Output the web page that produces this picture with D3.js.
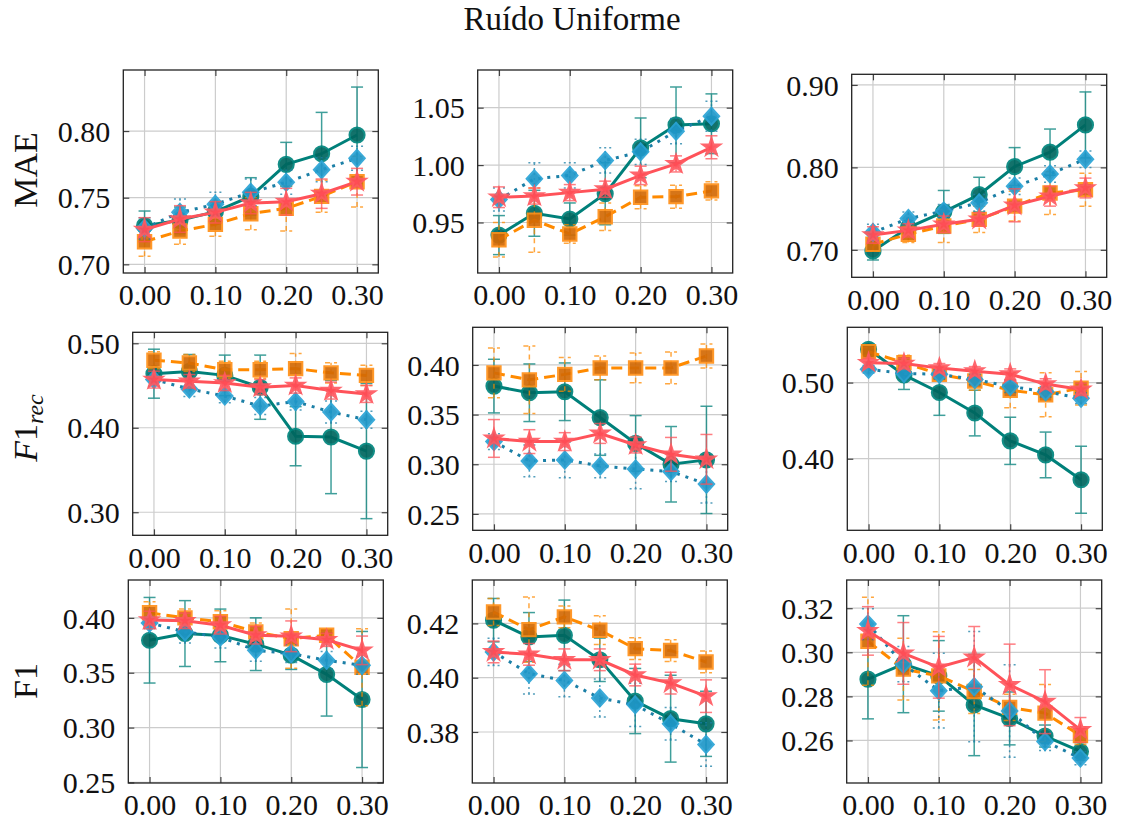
<!DOCTYPE html>
<html>
<head>
<meta charset="utf-8">
<script src="https://cdn.jsdelivr.net/npm/d3@7"></script>
<style>
  body { margin: 0; background: #fff; }
  svg { font-family: "Liberation Serif", "DejaVu Serif", serif; }
</style>
</head>
<body>
<svg id="chart" width="1131" height="825"></svg>
<script>
// noise levels (x axis) and tick values
const noise = [0, 0.05, 0.10, 0.15, 0.20, 0.25, 0.30];
const xTickValues = [0, 0.1, 0.2, 0.3];
const xDomain = [-0.03, 0.33];

// each mean/err array holds 4 series, in order: teal circles, blue diamonds, red stars, orange squares
// row 1: MAE
const mae1Mean = [
  [0.729, 0.733, 0.7395, 0.751, 0.775, 0.783, 0.797],
  [0.727, 0.739, 0.745, 0.754, 0.7615, 0.771, 0.7795],
  [0.726, 0.734, 0.739, 0.746, 0.747, 0.753, 0.762],
  [0.717, 0.725, 0.730, 0.738, 0.742, 0.751, 0.762]
];
const mae1Err = [
  [0.011, 0.010, 0.007, 0.014, 0.0165, 0.031, 0.036],
  [0.008, 0.010, 0.009, 0.010, 0.009, 0.009, 0.009],
  [0.009, 0.010, 0.008, 0.008, 0.010, 0.011, 0.010],
  [0.011, 0.010, 0.009, 0.012, 0.017, 0.012, 0.019]
];
const mae2Mean = [
  [0.939, 0.958, 0.953, 0.975, 1.015, 1.035, 1.036],
  [0.970, 0.988, 0.991, 1.004, 1.0115, 1.0295, 1.0425],
  [0.972, 0.973, 0.976, 0.979, 0.991, 1.001, 1.0155],
  [0.935, 0.952, 0.940, 0.955, 0.972, 0.9725, 0.9775]
];
const mae2Err = [
  [0.017, 0.020, 0.014, 0.027, 0.026, 0.033, 0.026],
  [0.010, 0.014, 0.011, 0.011, 0.011, 0.011, 0.013],
  [0.009, 0.007, 0.007, 0.007, 0.008, 0.007, 0.010],
  [0.015, 0.028, 0.008, 0.012, 0.010, 0.010, 0.008]
];
const mae3Mean = [
  [0.6987, 0.727, 0.746, 0.767, 0.801, 0.8185, 0.8515],
  [0.721, 0.738, 0.747, 0.757, 0.777, 0.792, 0.810],
  [0.718, 0.7236, 0.731, 0.737, 0.754, 0.765, 0.775],
  [0.7067, 0.719, 0.729, 0.737, 0.753, 0.769, 0.773]
];
const mae3Err = [
  [0.011, 0.008, 0.026, 0.021, 0.023, 0.028, 0.040],
  [0.010, 0.008, 0.008, 0.010, 0.010, 0.010, 0.010],
  [0.010, 0.008, 0.010, 0.008, 0.020, 0.012, 0.012],
  [0.008, 0.010, 0.020, 0.016, 0.018, 0.026, 0.020]
];
// row 2: F1 rec
const rec1Mean = [
  [0.464, 0.4667, 0.462, 0.448, 0.390, 0.389, 0.3724],
  [0.457, 0.446, 0.4375, 0.4257, 0.431, 0.4186, 0.4095],
  [0.457, 0.455, 0.453, 0.448, 0.450, 0.444, 0.440],
  [0.480, 0.4766, 0.4687, 0.4687, 0.470, 0.465, 0.462]
];
const rec1Err = [
  [0.029, 0.020, 0.024, 0.038, 0.035, 0.067, 0.080],
  [0.008, 0.009, 0.008, 0.010, 0.010, 0.013, 0.010],
  [0.010, 0.008, 0.009, 0.009, 0.009, 0.010, 0.010],
  [0.010, 0.010, 0.010, 0.010, 0.018, 0.012, 0.012]
];
const rec2Mean = [
  [0.3787, 0.372, 0.373, 0.347, 0.321, 0.300, 0.3044],
  [0.3228, 0.3034, 0.3044, 0.2983, 0.2953, 0.2926, 0.280],
  [0.326, 0.3228, 0.3228, 0.331, 0.3194, 0.310, 0.305],
  [0.392, 0.385, 0.3905, 0.397, 0.397, 0.397, 0.409]
];
const rec2Err = [
  [0.027, 0.029, 0.029, 0.038, 0.028, 0.038, 0.054],
  [0.008, 0.016, 0.018, 0.012, 0.020, 0.010, 0.019],
  [0.019, 0.012, 0.009, 0.010, 0.008, 0.017, 0.025],
  [0.025, 0.034, 0.017, 0.012, 0.015, 0.016, 0.012]
];
const rec3Mean = [
  [0.5437, 0.510, 0.487, 0.460, 0.4235, 0.405, 0.3724],
  [0.5175, 0.512, 0.511, 0.504, 0.495, 0.488, 0.4795],
  [0.526, 0.525, 0.519, 0.515, 0.511, 0.498, 0.491],
  [0.5406, 0.526, 0.511, 0.502, 0.490, 0.484, 0.4926]
];
const rec3Err = [
  [0.005, 0.019, 0.030, 0.030, 0.031, 0.030, 0.044],
  [0.005, 0.006, 0.006, 0.007, 0.008, 0.007, 0.007],
  [0.006, 0.007, 0.006, 0.006, 0.007, 0.007, 0.008],
  [0.005, 0.010, 0.008, 0.012, 0.023, 0.029, 0.022]
];
// row 3: F1
const f1aMean = [
  [0.3796, 0.3857, 0.384, 0.376, 0.366, 0.3485, 0.3256],
  [0.3954, 0.3872, 0.3826, 0.3704, 0.3674, 0.3613, 0.3567],
  [0.398, 0.3973, 0.3933, 0.3842, 0.3832, 0.380, 0.3704],
  [0.4046, 0.400, 0.3964, 0.3872, 0.381, 0.3842, 0.355]
];
const f1aErr = [
  [0.039, 0.030, 0.024, 0.024, 0.013, 0.038, 0.062],
  [0.005, 0.010, 0.010, 0.010, 0.008, 0.008, 0.008],
  [0.008, 0.007, 0.008, 0.008, 0.014, 0.006, 0.013],
  [0.010, 0.008, 0.010, 0.008, 0.027, 0.005, 0.035]
];
const f1bMean = [
  [0.4212, 0.415, 0.4156, 0.4066, 0.3914, 0.3849, 0.383],
  [0.4095, 0.4015, 0.399, 0.3925, 0.390, 0.383, 0.3754],
  [0.4095, 0.4086, 0.4066, 0.4066, 0.401, 0.398, 0.3932],
  [0.4242, 0.4177, 0.4224, 0.4175, 0.4107, 0.410, 0.4058]
];
const f1bErr = [
  [0.008, 0.009, 0.013, 0.008, 0.012, 0.016, 0.012],
  [0.005, 0.0075, 0.006, 0.007, 0.008, 0.006, 0.008],
  [0.004, 0.004, 0.004, 0.004, 0.004, 0.004, 0.006],
  [0.005, 0.012, 0.004, 0.0053, 0.004, 0.004, 0.004]
];
const f1cMean = [
  [0.2878, 0.2946, 0.2893, 0.2761, 0.270, 0.262, 0.255],
  [0.3128, 0.2946, 0.2826, 0.2844, 0.2734, 0.2595, 0.252],
  [0.3097, 0.2995, 0.2932, 0.2977, 0.2852, 0.2776, 0.2648],
  [0.305, 0.2924, 0.2893, 0.2822, 0.275, 0.2724, 0.2622]
];
const f1cErr = [
  [0.018, 0.022, 0.016, 0.023, 0.012, 0.005, 0.004],
  [0.007, 0.008, 0.017, 0.025, 0.021, 0.004, 0.003],
  [0.011, 0.014, 0.014, 0.014, 0.0185, 0.0145, 0.0056],
  [0.020, 0.014, 0.020, 0.010, 0.006, 0.013, 0.004]
];

// y ranges and tick labels per panel
const yDomains = [
  [0.6935, 0.8458], [0.906, 1.0828], [0.6667, 0.9129],
  [0.2727, 0.513], [0.2335, 0.4379], [0.306, 0.5726],
  [0.2495, 0.4345], [0.3612, 0.436], [0.2407, 0.3328]
];
const yTickValues = [
  [0.70, 0.75, 0.80], [0.95, 1.00, 1.05], [0.70, 0.80, 0.90],
  [0.30, 0.40, 0.50], [0.25, 0.30, 0.35, 0.40], [0.40, 0.50],
  [0.25, 0.30, 0.35, 0.40], [0.38, 0.40, 0.42], [0.26, 0.28, 0.30, 0.32]
];
const means = [mae1Mean, mae2Mean, mae3Mean, rec1Mean, rec2Mean, rec3Mean, f1aMean, f1bMean, f1cMean];
const errs = [mae1Err, mae2Err, mae3Err, rec1Err, rec2Err, rec3Err, f1aErr, f1bErr, f1cErr];

// panel boxes [left, top]
const boxes = [
  [123.3, 70], [477.7, 70], [851.7, 74.3],
  [132.7, 332.3], [472.7, 327.3], [847.3, 327.3],
  [128.3, 580], [472.3, 580], [846.7, 580]
];
const boxW = 255, boxH = 203;

const diamond = {
  draw(ctx, size) {
    const r = Math.sqrt(size) / 2;
    ctx.moveTo(0, -r * 1.1);
    ctx.lineTo(r, 0);
    ctx.lineTo(0, r * 1.1);
    ctx.lineTo(-r, 0);
    ctx.closePath();
  }
};

const styles = [
  { line: "#00807a", fill: "#00675f", stroke: "#00857d", dash: null, errDash: null, sym: d3.symbolCircle, size: 180 },
  { line: "#1b7fa6", fill: "#1f97c8", stroke: "#2ba4d6", dash: "3,6", errDash: "2,3", sym: diamond, size: 240 },
  { line: "#ff5259", fill: "#ff4d56", stroke: "#ff5a61", dash: null, errDash: null, sym: d3.symbolStar, size: 95 },
  { line: "#ff8a00", fill: "#d36a05", stroke: "#ff9018", dash: "11,6", errDash: "5,4", sym: d3.symbolSquare, size: 180 }
];
const drawOrder = [0, 3, 1, 2];

const svg = d3.select("#chart");

svg.append("text")
  .attr("x", 572).attr("y", 30)
  .attr("text-anchor", "middle")
  .attr("font-size", 33)
  .attr("fill", "#111")
  .text("Ruído Uniforme");

const fs = 30;

boxes.forEach((b, p) => {
  const g = svg.append("g").attr("transform", `translate(${b[0]},${b[1]})`);
  const x = d3.scaleLinear().domain(xDomain).range([0, boxW]);
  const y = d3.scaleLinear().domain(yDomains[p]).range([boxH, 0]);

  // grid
  g.append("g").selectAll("line").data(xTickValues).join("line")
    .attr("x1", d => x(d)).attr("x2", d => x(d))
    .attr("y1", 0).attr("y2", boxH)
    .attr("stroke", "#cccccc").attr("stroke-width", 1.2);
  g.append("g").selectAll("line").data(yTickValues[p]).join("line")
    .attr("x1", 0).attr("x2", boxW)
    .attr("y1", d => y(d)).attr("y2", d => y(d))
    .attr("stroke", "#cccccc").attr("stroke-width", 1.2);

  // axes, ticks pointing inward
  const fmt = d3.format(".2f");
  const axB = g.append("g").attr("transform", `translate(0,${boxH})`)
    .call(d3.axisBottom(x).tickValues(xTickValues).tickFormat(fmt).tickSize(-6).tickPadding(11));
  const axT = g.append("g")
    .call(d3.axisTop(x).tickValues(xTickValues).tickFormat("").tickSize(-6));
  const axL = g.append("g")
    .call(d3.axisLeft(y).tickValues(yTickValues[p]).tickFormat(fmt).tickSize(-6).tickPadding(13));
  const axR = g.append("g").attr("transform", `translate(${boxW},0)`)
    .call(d3.axisRight(y).tickValues(yTickValues[p]).tickFormat("").tickSize(-6));
  [axB, axT, axL, axR].forEach(a => {
    a.attr("font-family", null).attr("font-size", fs);
    a.select(".domain").remove();
    a.selectAll(".tick line").attr("stroke", "#444").attr("stroke-width", 1.2);
    a.selectAll(".tick text").attr("fill", "#111");
  });
  axL.selectAll(".tick text").attr("dy", "0.34em");

  // box
  g.append("rect").attr("width", boxW).attr("height", boxH)
    .attr("fill", "none").attr("stroke", "#222").attr("stroke-width", 1.3);

  const line = d3.line().x((d, i) => x(noise[i])).y(d => y(d));

  drawOrder.forEach(s => {
    const st = styles[s];
    const vals = means[p][s];
    const ev = errs[p][s];
    const sg = g.append("g");

    // error bars
    const eb = sg.append("g")
      .attr("stroke", st.line).attr("stroke-width", 1.5).attr("opacity", 0.75)
      .attr("stroke-dasharray", st.errDash);
    vals.forEach((v, i) => {
      const cx = x(noise[i]);
      const y0 = y(v - ev[i]), y1 = y(v + ev[i]);
      eb.append("line").attr("x1", cx).attr("x2", cx).attr("y1", y0).attr("y2", y1);
      eb.append("line").attr("x1", cx - 6).attr("x2", cx + 6).attr("y1", y0).attr("y2", y0)
        .attr("stroke-dasharray", null);
      eb.append("line").attr("x1", cx - 6).attr("x2", cx + 6).attr("y1", y1).attr("y2", y1)
        .attr("stroke-dasharray", null);
    });

    sg.append("path").datum(vals)
      .attr("d", line)
      .attr("fill", "none")
      .attr("stroke", st.line)
      .attr("stroke-width", 3)
      .attr("stroke-dasharray", st.dash);

    sg.append("g").selectAll("path").data(vals).join("path")
      .attr("transform", (d, i) => `translate(${x(noise[i])},${y(d)})`)
      .attr("d", d3.symbol().type(st.sym).size(st.size))
      .attr("fill", st.fill)
      .attr("stroke", st.stroke)
      .attr("stroke-width", 2)
      .attr("opacity", 0.92);
  });
});

// y axis labels
const ylab = svg.append("g").attr("font-size", 34).attr("fill", "#111");
ylab.append("text")
  .attr("transform", "translate(37,170) rotate(-90)")
  .attr("text-anchor", "middle")
  .text("MAE");
const rec = ylab.append("text")
  .attr("transform", "translate(37,428) rotate(-90)")
  .attr("text-anchor", "middle");
rec.append("tspan").attr("font-style", "italic").text("F");
rec.append("tspan").text("1");
rec.append("tspan").attr("font-style", "italic").attr("font-size", 24).attr("dy", 6).text("rec");
ylab.append("text")
  .attr("transform", "translate(37,681) rotate(-90)")
  .attr("text-anchor", "middle")
  .text("F1");
</script>
</body>
</html>
